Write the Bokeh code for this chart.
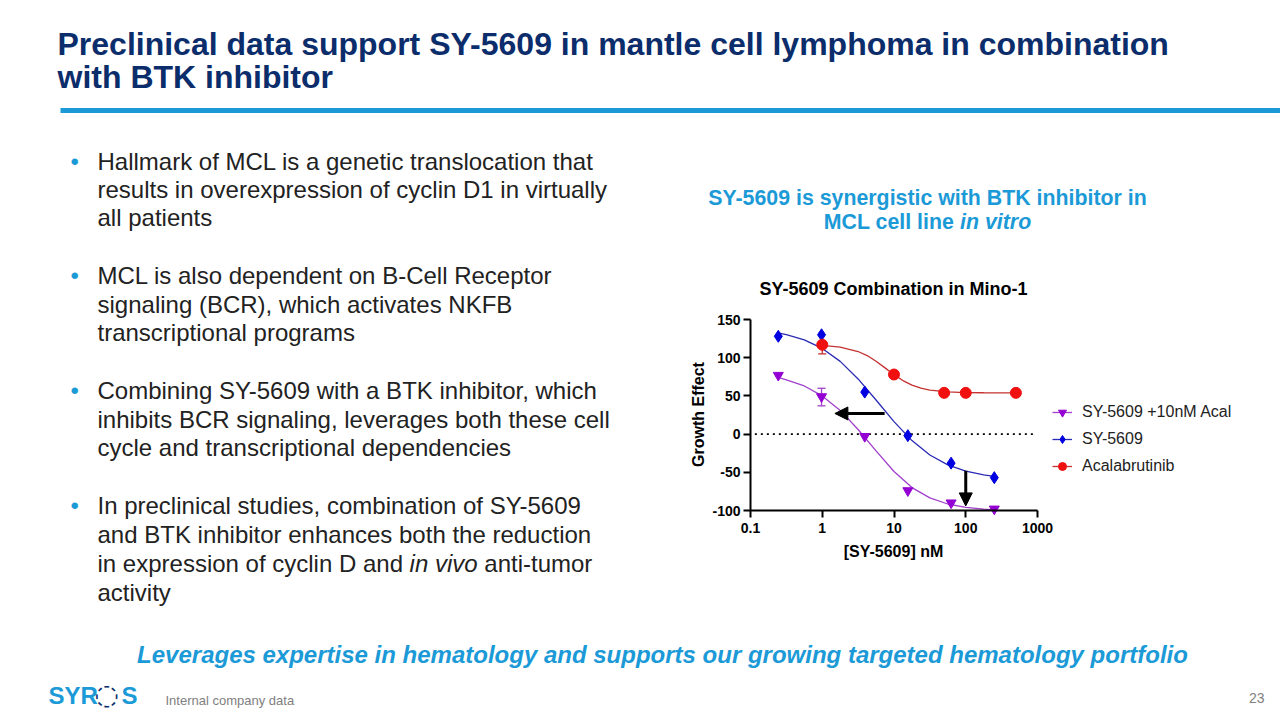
import math
from bokeh.plotting import figure
from bokeh.models import (Range1d, FixedTicker, Label, Legend, LegendItem, Arrow,
                          NormalHead, Whisker, TeeHead, ColumnDataSource, BoxAnnotation,
                          CustomJSTickFormatter, LogAxis, LinearAxis)
from bokeh.embed import file_html
from bokeh.resources import INLINE

# ---------------- data ----------------
conc = [0.244, 0.977, 3.91, 15.6, 62.5, 250]
combo_effect = [77, 49, -3, -74, -90, -98]          # SY-5609 +10nM Acal
sy5609_effect = [128, 130, 55, -2, -38, -57]         # SY-5609
acal_conc = [1, 10, 50, 100, 500]
acal_effect = [117, 78, 54, 54, 54]                  # Acalabrutinib

combo_err_x = [0.977]
combo_err_low = [37]
combo_err_high = [60]
acal_err_x = [1]
acal_err_low = [105]
acal_err_high = [117]

# fitted curves
curve_x = [0.25, 0.316, 0.562, 1, 1.78, 3.16, 5.62, 10, 17.8, 31.6, 56.2, 100, 178, 250]
combo_curve = [74, 71, 63, 50, 31, 6, -22, -49, -70, -83.5, -91.5, -96, -98.3, -99.2]
sy5609_curve = [132.2, 130.2, 123.3, 112.1, 95.2, 72.2, 44.6, 16.3, -8.5, -27.4, -40.2, -48.4, -53.3, -55.2]
acal_curve_x = [1, 1.78, 3.16, 4.22, 5.62, 7.5, 10, 13.3, 17.8, 23.7, 31.6, 56.2, 100, 178, 316, 500]
acal_curve = [116.0, 113.9, 108.1, 102.8, 95.4, 86.7, 77.8, 70.1, 64.2, 60.1, 57.6, 55.2, 54.4, 54.1, 54.0, 54.0]

arrow_x0 = [7.4, 100]
arrow_y0 = [27, -48]
arrow_x1 = [1.5, 100]
arrow_y1 = [27, -94]

x_ticks = [0.1, 1, 10, 100, 1000]
y_ticks = [-100, -50, 0, 50, 100, 150]
zero_line_y = [0, 0]

series_names = ["SY-5609 +10nM Acal", "SY-5609", "Acalabrutinib"]

title_lines = ["Preclinical data support SY-5609 in mantle cell lymphoma in combination",
               "with BTK inhibitor"]
subtitle_line1 = "SY-5609 is synergistic with BTK inhibitor in"
subtitle_line2 = ["MCL cell line", "in vitro"]
chart_title = "SY-5609 Combination in Mino-1"
x_label = "[SY-5609] nM"
y_label = "Growth Effect"
bullets = [
    ["Hallmark of MCL is a genetic translocation that",
     "results in overexpression of cyclin D1 in virtually",
     "all patients"],
    ["MCL is also dependent on B-Cell Receptor",
     "signaling (BCR), which activates NKFB",
     "transcriptional programs"],
    ["Combining SY-5609 with a BTK inhibitor, which",
     "inhibits BCR signaling, leverages both these cell",
     "cycle and transcriptional dependencies"],
    ["In preclinical studies, combination of SY-5609",
     "and BTK inhibitor enhances both the reduction",
     None,
     "activity"],
]
mixed_line = ["in expression of cyclin D and", "in vivo", "anti-tumor"]
tagline = "Leverages expertise in hematology and supports our growing targeted hematology portfolio"
footer_note = "Internal company data"
page_number = "23"

# ---------------- styling / layout ----------------
NAVY = "#0c2d6b"
ACCENT = "#1b9ad7"
TEXT = "#222222"
FONT = "Liberation Sans"
PURPLE_M, PURPLE_L = "#9400d3", "#a040cc"
BLUE_M, BLUE_L = "#0000e0", "#2a2ab4"
RED_M, RED_L = "#f01010", "#c53030"

W, H = 1280, 720
# pixel positions of the chart's axes on the slide
PX_X0, PX_X1 = 750, 1037
PX_Y0, PX_Y1 = 510, 319

lx0, lx1 = math.log10(x_ticks[0]), math.log10(x_ticks[-1])
ppd = (PX_X1 - PX_X0) / (lx1 - lx0)
x_lo = 10 ** (lx0 - PX_X0 / ppd)
x_hi = 10 ** (lx1 + (W - PX_X1) / ppd)
ymin, ymax = y_ticks[0], y_ticks[-1]
ppu = (PX_Y0 - PX_Y1) / (ymax - ymin)
y_hi = ymax + PX_Y1 / ppu
y_lo = ymin - (H - PX_Y0) / ppu

p = figure(width=W, height=H, x_axis_type="log",
           x_range=Range1d(x_lo, x_hi), y_range=Range1d(y_lo, y_hi),
           x_axis_location=None, y_axis_location=None, title=None,
           output_backend="svg", toolbar_location=None, min_border=0,
           background_fill_color="white", border_fill_color="white")
p.grid.visible = False
p.outline_line_color = None

plain = CustomJSTickFormatter(code="return tick.toString();")
xaxis = LogAxis(fixed_location=ymin, bounds=(x_ticks[0], x_ticks[-1]),
                ticker=FixedTicker(ticks=x_ticks), formatter=plain)
yaxis = LinearAxis(fixed_location=x_ticks[0], bounds=(ymin, ymax),
                   ticker=FixedTicker(ticks=y_ticks),
                   formatter=CustomJSTickFormatter(code="return tick.toString();"))
for ax in (xaxis, yaxis):
    ax.axis_line_width = 2
    ax.axis_line_color = "black"
    ax.major_tick_line_width = 2
    ax.major_tick_line_color = "black"
    ax.major_tick_out = 7
    ax.major_tick_in = 0
    ax.minor_tick_line_color = None
    ax.major_label_text_font = FONT
    ax.major_label_text_font_size = "14px"
    ax.major_label_text_font_style = "bold"
    ax.major_label_text_color = "black"
xaxis.major_label_standoff = 5
yaxis.major_label_standoff = 3
p.add_layout(xaxis, "below")
p.add_layout(yaxis, "left")

# dotted zero line across the axis range
p.line([x_ticks[0] * 1.15, x_ticks[-1] * 0.9], zero_line_y, line_color="black",
       line_width=1.6, line_dash="2 4")

# curves
l_combo = p.line(curve_x, combo_curve, line_color=PURPLE_L, line_width=1.3)
l_sy = p.line(curve_x, sy5609_curve, line_color=BLUE_L, line_width=1.3)
l_acal = p.line(acal_curve_x, acal_curve, line_color=RED_L, line_width=1.3)

# error bars
p.add_layout(Whisker(source=ColumnDataSource(dict(base=combo_err_x, lower=combo_err_low, upper=combo_err_high)),
                     base="base", lower="lower", upper="upper", dimension="height",
                     line_color=PURPLE_L, line_width=1.3,
                     upper_head=TeeHead(size=8, line_color=PURPLE_L, line_width=1.3),
                     lower_head=TeeHead(size=8, line_color=PURPLE_L, line_width=1.3)))
p.add_layout(Whisker(source=ColumnDataSource(dict(base=acal_err_x, lower=acal_err_low, upper=acal_err_high)),
                     base="base", lower="lower", upper="upper", dimension="height",
                     line_color=RED_L, line_width=1.3,
                     upper_head=None,
                     lower_head=TeeHead(size=8, line_color=RED_L, line_width=1.3)))

# markers
m_sy = p.scatter(conc, sy5609_effect, marker="diamond", size=12,
                 fill_color=BLUE_M, line_color=BLUE_M)
m_combo = p.scatter(conc, combo_effect, marker="inverted_triangle", size=10,
                    fill_color=PURPLE_M, line_color=PURPLE_M)
m_acal = p.scatter(acal_conc, acal_effect, marker="circle", size=11,
                   fill_color=RED_M, line_color=RED_M)

# arrows
p.add_layout(Arrow(source=ColumnDataSource(dict(x0=arrow_x0, y0=arrow_y0, x1=arrow_x1, y1=arrow_y1)),
                   x_start="x0", y_start="y0", x_end="x1", y_end="y1",
                   line_color="black", line_width=3,
                   end=NormalHead(size=13, fill_color="black", line_color="black")))

legend = Legend(items=[LegendItem(label=series_names[0], renderers=[l_combo, m_combo]),
                       LegendItem(label=series_names[1], renderers=[l_sy, m_sy]),
                       LegendItem(label=series_names[2], renderers=[l_acal, m_acal])],
                location=(1052, H - 476), margin=0, padding=0, spacing=7,
                glyph_width=20, glyph_height=20, label_height=20, label_standoff=10,
                label_text_font=FONT, label_text_font_size="16px", label_text_color=TEXT,
                background_fill_alpha=0, border_line_color=None)
p.add_layout(legend)


def txt(x, y, s, size, color, style="normal", align="left", font=FONT, angle=0.0):
    p.add_layout(Label(x=x, y=H - y, x_units="screen", y_units="screen", text=s,
                       text_font=font, text_font_size=size, text_color=color,
                       text_font_style=style, text_align=align, text_baseline="middle",
                       angle=angle))


# slide title and rule
txt(57, 43, title_lines[0], "32px", NAVY, "bold")
txt(57, 76, title_lines[1], "32px", NAVY, "bold")
p.add_layout(BoxAnnotation(left=60, right=W, top=H - 107.5, bottom=H - 112.5,
                           left_units="screen", right_units="screen",
                           top_units="screen", bottom_units="screen",
                           fill_color=ACCENT, fill_alpha=1, line_color=None))

# bullets
bullet_y = [[161, 189, 217], [275, 304, 332], [390, 419, 447], [505, 534, 563, 592]]
for para, ys in zip(bullets, bullet_y):
    txt(70, ys[0], "\u2022", "24px", ACCENT)
    for line, yy in zip(para, ys):
        if line is None:
            txt(97, yy, mixed_line[0], "24px", TEXT)
            txt(409.1, yy, mixed_line[1], "24px", TEXT, "italic")
            txt(483.8, yy, mixed_line[2], "24px", TEXT)
        else:
            txt(97, yy, line, "24px", TEXT)

# chart heading, chart title, axis titles
txt(927, 197, subtitle_line1, "21.33px", ACCENT, "bold", "center")
txt(823.3, 221, subtitle_line2[0], "21.33px", ACCENT, "bold")
txt(959.6, 221, subtitle_line2[1], "21.33px", ACCENT, "bold italic")
txt(893, 288, chart_title, "18px", "black", "bold", "center")
txt(893, 551, x_label, "16px", "black", "bold", "center")
txt(698, 414, y_label, "16px", "black", "bold", "center", angle=math.pi / 2)

# tagline and footer
txt(662, 654, tagline, "24px", ACCENT, "bold italic", "center")
txt(48, 695, "SYR", "24px", ACCENT, "bold")
txt(94, 694, "\u25cc", "28px", NAVY, "bold", font="DejaVu Sans")
txt(121, 695, "S", "24px", ACCENT, "bold")
txt(165, 700, footer_note, "13px", "#808080")
txt(1264, 697, page_number, "14px", "#808080", align="right")

open("out.html", "w").write(file_html(p, INLINE))
